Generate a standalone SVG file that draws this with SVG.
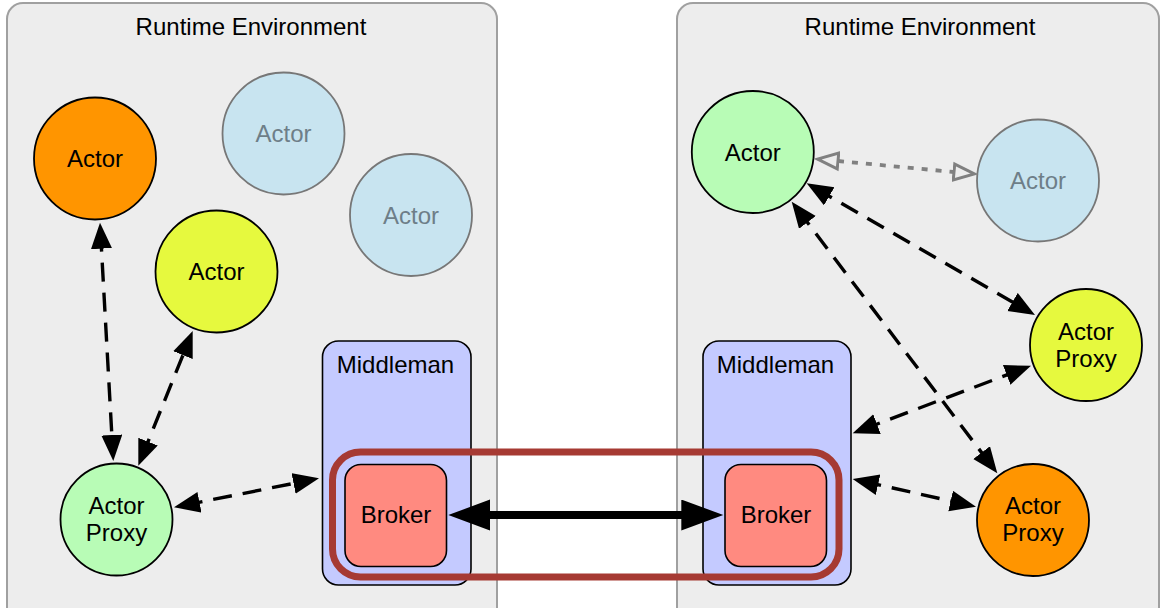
<svg xmlns="http://www.w3.org/2000/svg" width="1161" height="608" viewBox="0 0 1161 608">
<style>
  text { font-family: "Liberation Sans", Arial, sans-serif; font-size: 24px; text-anchor: middle; fill: #000; }
  .env { fill: #ededed; stroke: #a0a0a0; stroke-width: 2; }
  .mid { fill: #c4caff; stroke: #000; stroke-width: 1.6; }
  .brk { fill: #ff8a80; stroke: #000; stroke-width: 1.6; }
  .node { stroke: #000; stroke-width: 1.8; }
  .ghost { fill: #c8e4f0; stroke: #777; stroke-width: 1.8; }
  .ghost-t { fill: #6e7e88; }
  .dash { stroke: #000; stroke-width: 3.4; fill: none; stroke-dasharray: 19 11; marker-start: url(#ah); marker-end: url(#ah); }
  .dot { stroke: #808080; stroke-width: 3.8; fill: none; stroke-dasharray: 6 8; marker-start: url(#oh); marker-end: url(#oh); }
</style>
<defs>
  <marker id="ah" markerUnits="userSpaceOnUse" markerWidth="27" markerHeight="22" refX="16" refY="10.5" orient="auto-start-reverse" viewBox="0 0 27 22">
    <path d="M0,0 L26,10.5 L0,21 z" fill="#000"/>
  </marker>
  <marker id="oh" markerUnits="userSpaceOnUse" markerWidth="30" markerHeight="26" refX="1.5" refY="11" orient="auto-start-reverse" viewBox="0 0 30 26">
    <path d="M1.5,3 L22,11 L1.5,19 z" fill="#ededed" stroke="#808080" stroke-width="3"/>
  </marker>
  <marker id="bh" markerUnits="userSpaceOnUse" markerWidth="43" markerHeight="32" refX="22" refY="15.5" orient="auto-start-reverse" viewBox="0 0 43 32">
    <path d="M0,0 L42,15.5 L0,31 z" fill="#000"/>
  </marker>
</defs>

<g id="env-left">
  <rect class="env" x="7" y="3" width="490" height="620" rx="16"/>
  <text x="251" y="35">Runtime Environment</text>
</g>
<g id="env-right">
  <rect class="env" x="677" y="3" width="482" height="620" rx="16"/>
  <text x="920" y="35">Runtime Environment</text>
</g>

<g id="middleman-left">
  <rect class="mid" x="322.5" y="341" width="148.5" height="244" rx="16"/>
  <text x="395.5" y="373">Middleman</text>
</g>
<g id="middleman-right">
  <rect class="mid" x="703" y="341" width="148" height="244" rx="16"/>
  <text x="775.5" y="373">Middleman</text>
</g>

<g id="broker-frame">
  <rect x="332.5" y="452" width="506.5" height="125" rx="28" fill="none" stroke="#a63a33" stroke-width="7"/>
</g>

<g id="broker-left">
  <rect class="brk" x="345" y="464.5" width="101.5" height="102" rx="16"/>
  <text x="396" y="523">Broker</text>
</g>
<g id="broker-right">
  <rect class="brk" x="725" y="464.5" width="101.5" height="102" rx="16"/>
  <text x="776" y="523">Broker</text>
</g>

<g id="actor-orange-left">
  <circle class="node" cx="95" cy="158.5" r="61" fill="#ff9500"/>
  <text x="95" y="167">Actor</text>
</g>
<g id="actor-ghost-1">
  <circle class="ghost" cx="283.5" cy="133.5" r="61"/>
  <text class="ghost-t" x="283.5" y="142">Actor</text>
</g>
<g id="actor-ghost-2">
  <circle class="ghost" cx="411" cy="215" r="61"/>
  <text class="ghost-t" x="411" y="223.5">Actor</text>
</g>
<g id="actor-yellow-left">
  <circle class="node" cx="216.5" cy="271.5" r="61" fill="#e6f93e"/>
  <text x="216.5" y="280">Actor</text>
</g>
<g id="proxy-green-left">
  <circle class="node" cx="116.5" cy="519.5" r="56" fill="#b8fcb6"/>
  <text x="116.5" y="513.5">Actor</text>
  <text x="116.5" y="541">Proxy</text>
</g>

<g id="actor-green-right">
  <circle class="node" cx="752.8" cy="152" r="61" fill="#b8fcb6"/>
  <text x="752.8" y="160.5">Actor</text>
</g>
<g id="actor-ghost-3">
  <circle class="ghost" cx="1038" cy="180.5" r="61"/>
  <text class="ghost-t" x="1038" y="189">Actor</text>
</g>
<g id="proxy-yellow-right">
  <circle class="node" cx="1086" cy="345" r="56" fill="#e6f93e"/>
  <text x="1086" y="340">Actor</text>
  <text x="1086" y="367">Proxy</text>
</g>
<g id="proxy-orange-right">
  <circle class="node" cx="1033" cy="520" r="56" fill="#ff9500"/>
  <text x="1033" y="514">Actor</text>
  <text x="1033" y="541">Proxy</text>
</g>

<g id="connectors">
  <line class="dash" x1="100.56" y1="232.7" x2="112.74" y2="451.0"/>
  <line class="dash" x1="142.04" y1="456.43" x2="188.96" y2="340.27"/>
  <line class="dash" x1="183.8" y1="505.34" x2="309.2" y2="480.26"/>
  <line x1="468.3" y1="515" x2="703.3" y2="515" stroke="#000" stroke-width="8" marker-start="url(#bh)" marker-end="url(#bh)"/>
  <line class="dash" x1="815.36" y1="188.3" x2="1026.34" y2="310.0"/>
  <line class="dash" x1="797.74" y1="209.67" x2="991.26" y2="465.33"/>
  <line class="dash" x1="862.05" y1="429.75" x2="1021.65" y2="369.25"/>
  <line class="dash" x1="862.45" y1="481.19" x2="966.25" y2="504.51"/>
  <line class="dot" x1="838" y1="161" x2="954" y2="172"/>
</g>
</svg>
